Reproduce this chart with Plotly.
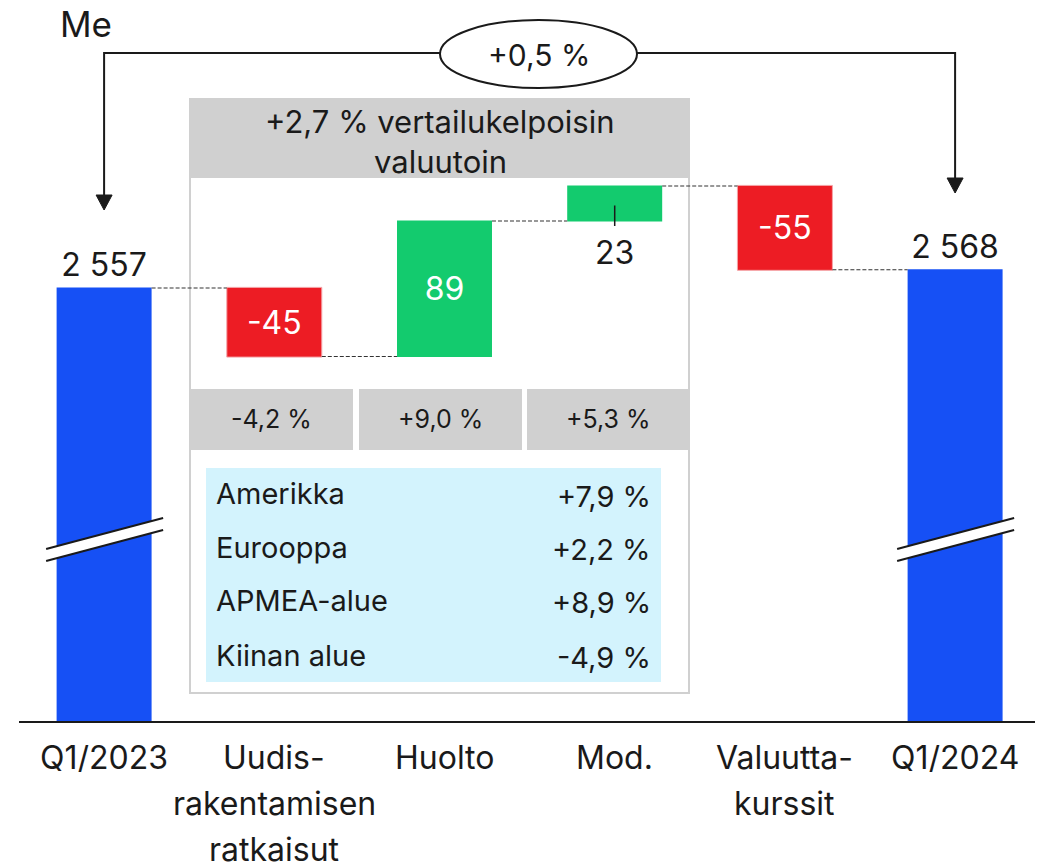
import plotly.graph_objects as go

# ---------------- data ----------------
categories = ["Q1/2023", "Uudisrakentamisen ratkaisut", "Huolto", "Mod.", "Valuuttakurssit", "Q1/2024"]
tick_lines = [["Q1/2023"], ["Uudis-", "rakentamisen", "ratkaisut"], ["Huolto"], ["Mod."],
              ["Valuutta-", "kurssit"], ["Q1/2024"]]
values = [2557, -45, 89, 23, -55, 2568]
measures = ["absolute", "relative", "relative", "relative", "relative", "total"]
value_labels = ["2 557", "-45", "89", "23", "-55", "2 568"]
segment_growth = ["-4,2 %", "+9,0 %", "+5,3 %"]
regions = ["Amerikka", "Eurooppa", "APMEA-alue", "Kiinan alue"]
region_growth = ["+7,9 %", "+2,2 %", "+8,9 %", "-4,9 %"]
comparable_lines = ["+2,7 % vertailukelpoisin", "valuutoin"]
total_change = "+0,5 %"
unit_label = "Me"

# ---------------- style ----------------
FONT = "Inter"
TXT = "#1a1a1a"
BLUE = "#1650F5"
RED = "#ED1C24"
GREEN = "#13CB6E"
GREY = "#D0D0D0"
LIGHTBLUE = "#D3F3FD"

W, H = 1043, 864
PAGE_OFF = 8                      # body margin of the html page
ML, MR, MT, MB = 11, 8, 0, 151
PW, PH = W - ML - MR, H - MT - MB
CAT_STEP = 170.2
X_RANGE = [-0.5, -0.5 + PW / CAT_STEP]
PX_PER_UNIT = 1.522
Y0 = 2272.5
Y_RANGE = [Y0, Y0 + PH / PX_PER_UNIT]


def px(x):
    """page pixel x -> paper"""
    return (x - PAGE_OFF - ML) / PW


def py(y):
    """page pixel y -> paper"""
    return (MT + PH - (y - PAGE_OFF)) / PH


def cat_px(i):
    return PAGE_OFF + ML + (i - X_RANGE[0]) * CAT_STEP


text_pos = ["outside", "inside", "inside", "none", "inside", "outside"]

fig = go.Figure()
fig.add_trace(go.Waterfall(
    x=categories, y=values, measure=measures,
    text=value_labels, textposition=text_pos,
    insidetextanchor="middle", textangle=0, constraintext="none",
    textfont=dict(family=FONT, size=32),
    insidetextfont=dict(family=FONT, size=32, color="white"),
    outsidetextfont=dict(family=FONT, size=32, color=TXT),
    increasing=dict(marker=dict(color=GREEN)),
    decreasing=dict(marker=dict(color=RED, line=dict(color="#F4A3A7", width=1))),
    totals=dict(marker=dict(color=BLUE)),
    connector=dict(mode="between", line=dict(color="#333333", width=1.2, dash="4px,2px")),
    hoverinfo="skip",
))

shapes = []
annotations = []

# overlay box (comparable-currency panel)
shapes.append(dict(type="rect", xref="paper", yref="paper", layer="below",
                   x0=px(190), x1=px(689), y0=py(693), y1=py(99),
                   fillcolor="white", line=dict(color=GREY, width=2)))
shapes.append(dict(type="rect", xref="paper", yref="paper", layer="below",
                   x0=px(189), x1=px(690), y0=py(178), y1=py(98),
                   fillcolor=GREY, line=dict(width=0)))
for li, line in enumerate(comparable_lines):
    annotations.append(dict(xref="paper", yref="paper", x=px(440), y=py(121 + 40 * li),
                            text=line, showarrow=False, xanchor="center", yanchor="middle",
                            font=dict(family=FONT, size=31, color=TXT)))

# segment growth cells
cells = [(189, 353), (359, 522), (527, 689)]
for (a, b), t in zip(cells, segment_growth):
    shapes.append(dict(type="rect", xref="paper", yref="paper", layer="below",
                       x0=px(a), x1=px(b), y0=py(450), y1=py(389),
                       fillcolor=GREY, line=dict(width=0)))
    annotations.append(dict(xref="paper", yref="paper", x=px((a + b) / 2), y=py(419),
                            text=t, showarrow=False, xanchor="center", yanchor="middle",
                            font=dict(family=FONT, size=25, color=TXT)))

# regions box
shapes.append(dict(type="rect", xref="paper", yref="paper", layer="below",
                   x0=px(206), x1=px(661), y0=py(682), y1=py(468),
                   fillcolor=LIGHTBLUE, line=dict(width=0)))
row_y = [494, 547, 600, 655]
for r, g, yy in zip(regions, region_growth, row_y):
    annotations.append(dict(xref="paper", yref="paper", x=px(214), y=py(yy),
                            text=r, showarrow=False, xanchor="left", yanchor="middle",
                            font=dict(family=FONT, size=29, color=TXT)))
    annotations.append(dict(xref="paper", yref="paper", x=px(653), y=py(yy + 2),
                            text=g, showarrow=False, xanchor="right", yanchor="middle",
                            font=dict(family=FONT, size=29, color=TXT)))

# label for the small Mod. bar, placed below with a leader line
mod_i = categories.index("Mod.")
mod_mid = sum(values[:mod_i]) + values[mod_i] / 2
annotations.append(dict(x=categories[mod_i], y=mod_mid, xref="x", yref="y",
                        text=value_labels[mod_i], showarrow=True, arrowhead=0,
                        arrowwidth=1.5, arrowcolor=TXT, ax=0, ay=48, standoff=2,
                        height=48, font=dict(family=FONT, size=32, color=TXT)))

# category labels (multi-line, custom spacing)
for i, lines in enumerate(tick_lines):
    for li, line in enumerate(lines):
        annotations.append(dict(xref="x", yref="paper", x=categories[i], y=py(757 + 46 * li),
                                text=line, showarrow=False, xanchor="center", yanchor="middle",
                                height=30, font=dict(family=FONT, size=32, color=TXT)))

# unit label
annotations.append(dict(xref="paper", yref="paper", x=px(58), y=py(24), text=unit_label,
                        showarrow=False, xanchor="left", yanchor="middle", height=30,
                        font=dict(family=FONT, size=35, color=TXT)))

# total change bracket with arrows
left_x, right_x = cat_px(0), cat_px(5)
shapes.append(dict(type="path", xref="paper", yref="paper",
                   path=f"M {px(left_x)},{py(196)} L {px(left_x)},{py(53)} L {px(441)},{py(53)}",
                   line=dict(color=TXT, width=2)))
shapes.append(dict(type="path", xref="paper", yref="paper",
                   path=f"M {px(636)},{py(53)} L {px(right_x)},{py(53)} L {px(right_x)},{py(179)}",
                   line=dict(color=TXT, width=2)))
for cx, tip in ((left_x, 210), (right_x, 193)):
    shapes.append(dict(type="path", xref="paper", yref="paper",
                       path=f"M {px(cx - 8)},{py(tip - 15)} L {px(cx + 8)},{py(tip - 15)} L {px(cx)},{py(tip)} Z",
                       fillcolor=TXT, line=dict(color=TXT, width=1)))
shapes.append(dict(type="circle", xref="paper", yref="paper",
                   x0=px(440), x1=px(637), y0=py(88), y1=py(20),
                   fillcolor="white", line=dict(color=TXT, width=2)))
annotations.append(dict(xref="paper", yref="paper", x=px(538.5), y=py(55), text=total_change,
                        showarrow=False, xanchor="center", yanchor="middle",
                        font=dict(family=FONT, size=30, color=TXT)))

# axis break marks on the total bars
for i in (0, 5):
    cx = cat_px(i)
    x0, x1 = cx - 58, cx + 59
    shapes.append(dict(type="path", xref="paper", yref="paper",
                       path=(f"M {px(x0)},{py(549)} L {px(x1)},{py(518)} L {px(x1)},{py(530)} "
                             f"L {px(x0)},{py(561)} Z"),
                       fillcolor="white", line=dict(width=0)))
    for ya, yb in ((549, 518), (561, 530)):
        shapes.append(dict(type="line", xref="paper", yref="paper",
                           x0=px(x0), y0=py(ya), x1=px(x1), y1=py(yb),
                           line=dict(color=TXT, width=2)))

fig.update_layout(
    width=W, height=H,
    margin=dict(l=ML, r=MR, t=MT, b=MB),
    paper_bgcolor="white", plot_bgcolor="white",
    showlegend=False,
    waterfallgap=0.442,
    font=dict(family=FONT, color=TXT),
    xaxis=dict(range=X_RANGE, showticklabels=False, showgrid=False, zeroline=False,
               showline=True, linecolor=TXT, linewidth=2, ticks="", automargin=False),
    yaxis=dict(range=Y_RANGE, visible=False, showgrid=False, zeroline=False, automargin=False),
    shapes=shapes, annotations=annotations,
)

fig.write_html("out.html")
